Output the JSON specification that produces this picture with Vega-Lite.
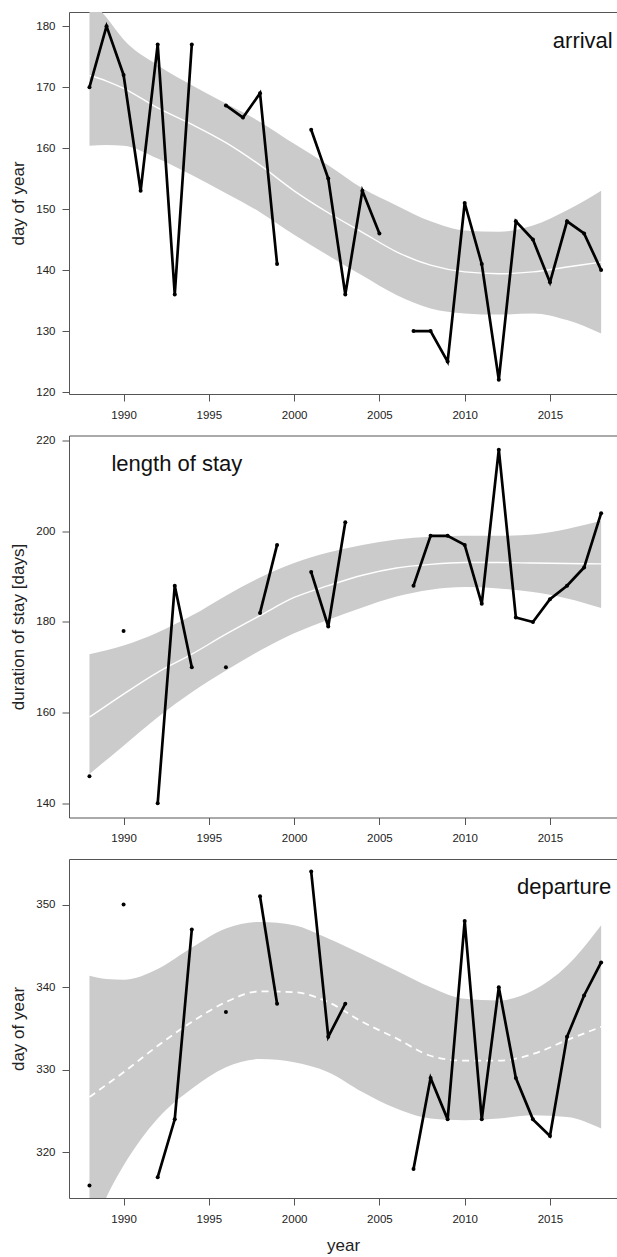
{
  "$schema": "https://vega.github.io/schema/vega-lite/v6.json",
  "padding": {"left": 9, "top": 12, "right": 0, "bottom": 0},
  "background": "white",
  "config": {
    "font": "Liberation Sans",
    "view": {"stroke": null},
    "axis": {"grid": false, "domainColor": "#555", "tickColor": "#555", "labelColor": "#222", "titleColor": "#222", "labelFont": "Liberation Sans", "titleFont": "Liberation Sans", "labelFontSize": 11.5, "titleFontSize": 17, "titleFontWeight": "normal", "tickSize": 7, "domainWidth": 1, "tickWidth": 1, "labelOverlap": false, "labelFlush": false}
  },
  "datasets": {
    "obs": [
      {"panel": "arrival", "year": 1988, "v": 170, "seg": 1},
      {"panel": "arrival", "year": 1989, "v": 180, "seg": 1},
      {"panel": "arrival", "year": 1990, "v": 172, "seg": 1},
      {"panel": "arrival", "year": 1991, "v": 153, "seg": 1},
      {"panel": "arrival", "year": 1992, "v": 177, "seg": 1},
      {"panel": "arrival", "year": 1993, "v": 136, "seg": 1},
      {"panel": "arrival", "year": 1994, "v": 177, "seg": 1},
      {"panel": "arrival", "year": 1996, "v": 167, "seg": 2},
      {"panel": "arrival", "year": 1997, "v": 165, "seg": 2},
      {"panel": "arrival", "year": 1998, "v": 169, "seg": 2},
      {"panel": "arrival", "year": 1999, "v": 141, "seg": 2},
      {"panel": "arrival", "year": 2001, "v": 163, "seg": 3},
      {"panel": "arrival", "year": 2002, "v": 155, "seg": 3},
      {"panel": "arrival", "year": 2003, "v": 136, "seg": 3},
      {"panel": "arrival", "year": 2004, "v": 153, "seg": 3},
      {"panel": "arrival", "year": 2005, "v": 146, "seg": 3},
      {"panel": "arrival", "year": 2007, "v": 130, "seg": 4},
      {"panel": "arrival", "year": 2008, "v": 130, "seg": 4},
      {"panel": "arrival", "year": 2009, "v": 125, "seg": 4},
      {"panel": "arrival", "year": 2010, "v": 151, "seg": 4},
      {"panel": "arrival", "year": 2011, "v": 141, "seg": 4},
      {"panel": "arrival", "year": 2012, "v": 122, "seg": 4},
      {"panel": "arrival", "year": 2013, "v": 148, "seg": 4},
      {"panel": "arrival", "year": 2014, "v": 145, "seg": 4},
      {"panel": "arrival", "year": 2015, "v": 138, "seg": 4},
      {"panel": "arrival", "year": 2016, "v": 148, "seg": 4},
      {"panel": "arrival", "year": 2017, "v": 146, "seg": 4},
      {"panel": "arrival", "year": 2018, "v": 140, "seg": 4},
      {"panel": "stay", "year": 1988, "v": 146, "seg": 1},
      {"panel": "stay", "year": 1990, "v": 178, "seg": 2},
      {"panel": "stay", "year": 1992, "v": 140, "seg": 3},
      {"panel": "stay", "year": 1993, "v": 188, "seg": 3},
      {"panel": "stay", "year": 1994, "v": 170, "seg": 3},
      {"panel": "stay", "year": 1996, "v": 170, "seg": 4},
      {"panel": "stay", "year": 1998, "v": 182, "seg": 5},
      {"panel": "stay", "year": 1999, "v": 197, "seg": 5},
      {"panel": "stay", "year": 2001, "v": 191, "seg": 6},
      {"panel": "stay", "year": 2002, "v": 179, "seg": 6},
      {"panel": "stay", "year": 2003, "v": 202, "seg": 6},
      {"panel": "stay", "year": 2007, "v": 188, "seg": 7},
      {"panel": "stay", "year": 2008, "v": 199, "seg": 7},
      {"panel": "stay", "year": 2009, "v": 199, "seg": 7},
      {"panel": "stay", "year": 2010, "v": 197, "seg": 7},
      {"panel": "stay", "year": 2011, "v": 184, "seg": 7},
      {"panel": "stay", "year": 2012, "v": 218, "seg": 7},
      {"panel": "stay", "year": 2013, "v": 181, "seg": 7},
      {"panel": "stay", "year": 2014, "v": 180, "seg": 7},
      {"panel": "stay", "year": 2015, "v": 185, "seg": 7},
      {"panel": "stay", "year": 2016, "v": 188, "seg": 7},
      {"panel": "stay", "year": 2017, "v": 192, "seg": 7},
      {"panel": "stay", "year": 2018, "v": 204, "seg": 7},
      {"panel": "departure", "year": 1988, "v": 316, "seg": 1},
      {"panel": "departure", "year": 1990, "v": 350, "seg": 2},
      {"panel": "departure", "year": 1992, "v": 317, "seg": 3},
      {"panel": "departure", "year": 1993, "v": 324, "seg": 3},
      {"panel": "departure", "year": 1994, "v": 347, "seg": 3},
      {"panel": "departure", "year": 1996, "v": 337, "seg": 4},
      {"panel": "departure", "year": 1998, "v": 351, "seg": 5},
      {"panel": "departure", "year": 1999, "v": 338, "seg": 5},
      {"panel": "departure", "year": 2001, "v": 354, "seg": 6},
      {"panel": "departure", "year": 2002, "v": 334, "seg": 6},
      {"panel": "departure", "year": 2003, "v": 338, "seg": 6},
      {"panel": "departure", "year": 2007, "v": 318, "seg": 7},
      {"panel": "departure", "year": 2008, "v": 329, "seg": 7},
      {"panel": "departure", "year": 2009, "v": 324, "seg": 7},
      {"panel": "departure", "year": 2010, "v": 348, "seg": 7},
      {"panel": "departure", "year": 2011, "v": 324, "seg": 7},
      {"panel": "departure", "year": 2012, "v": 340, "seg": 7},
      {"panel": "departure", "year": 2013, "v": 329, "seg": 7},
      {"panel": "departure", "year": 2014, "v": 324, "seg": 7},
      {"panel": "departure", "year": 2015, "v": 322, "seg": 7},
      {"panel": "departure", "year": 2016, "v": 334, "seg": 7},
      {"panel": "departure", "year": 2017, "v": 339, "seg": 7},
      {"panel": "departure", "year": 2018, "v": 343, "seg": 7}
    ],
    "fit": [
      {"panel": "arrival", "year": 1988, "lo": 160.4, "mid": 171.9, "hi": 184.5},
      {"panel": "arrival", "year": 1989, "lo": 160.5, "mid": 171.0, "hi": 181.4},
      {"panel": "arrival", "year": 1990, "lo": 160.4, "mid": 169.8, "hi": 177.8},
      {"panel": "arrival", "year": 1992, "lo": 158.3, "mid": 166.6, "hi": 173.6},
      {"panel": "arrival", "year": 1994, "lo": 155.6, "mid": 163.9, "hi": 170.3},
      {"panel": "arrival", "year": 1996, "lo": 152.6, "mid": 160.9, "hi": 167.3},
      {"panel": "arrival", "year": 1998, "lo": 149.5, "mid": 157.2, "hi": 164.3},
      {"panel": "arrival", "year": 2000, "lo": 145.8, "mid": 153.0, "hi": 160.7},
      {"panel": "arrival", "year": 2002, "lo": 142.4, "mid": 149.4, "hi": 157.2},
      {"panel": "arrival", "year": 2004, "lo": 139.1, "mid": 146.2, "hi": 153.4},
      {"panel": "arrival", "year": 2006, "lo": 135.9, "mid": 143.0, "hi": 150.6},
      {"panel": "arrival", "year": 2008, "lo": 133.7, "mid": 140.8, "hi": 148.0},
      {"panel": "arrival", "year": 2010, "lo": 132.9, "mid": 139.7, "hi": 146.5},
      {"panel": "arrival", "year": 2012, "lo": 132.7, "mid": 139.4, "hi": 146.3},
      {"panel": "arrival", "year": 2014, "lo": 132.9, "mid": 139.7, "hi": 147.3},
      {"panel": "arrival", "year": 2016, "lo": 131.8, "mid": 140.5, "hi": 149.8},
      {"panel": "arrival", "year": 2018, "lo": 129.6, "mid": 141.3, "hi": 153.0},
      {"panel": "stay", "year": 1988, "lo": 146.5, "mid": 159.0, "hi": 172.9},
      {"panel": "stay", "year": 1990, "lo": 152.7, "mid": 164.1, "hi": 174.8},
      {"panel": "stay", "year": 1992, "lo": 159.0, "mid": 168.9, "hi": 177.7},
      {"panel": "stay", "year": 1994, "lo": 164.5, "mid": 172.9, "hi": 181.4},
      {"panel": "stay", "year": 1996, "lo": 169.3, "mid": 177.3, "hi": 185.8},
      {"panel": "stay", "year": 1998, "lo": 173.7, "mid": 181.4, "hi": 189.8},
      {"panel": "stay", "year": 2000, "lo": 177.5, "mid": 185.4, "hi": 193.0},
      {"panel": "stay", "year": 2002, "lo": 180.5, "mid": 188.0, "hi": 195.3},
      {"panel": "stay", "year": 2004, "lo": 183.2, "mid": 190.3, "hi": 197.0},
      {"panel": "stay", "year": 2006, "lo": 185.6, "mid": 191.9, "hi": 198.2},
      {"panel": "stay", "year": 2008, "lo": 187.1, "mid": 192.7, "hi": 198.8},
      {"panel": "stay", "year": 2010, "lo": 187.7, "mid": 193.1, "hi": 199.0},
      {"panel": "stay", "year": 2012, "lo": 187.4, "mid": 193.1, "hi": 199.0},
      {"panel": "stay", "year": 2014, "lo": 186.6, "mid": 193.0, "hi": 199.3},
      {"panel": "stay", "year": 2016, "lo": 185.2, "mid": 192.9, "hi": 200.5},
      {"panel": "stay", "year": 2018, "lo": 183.1, "mid": 192.8, "hi": 202.3},
      {"panel": "departure", "year": 1988, "lo": 309.5, "mid": 326.7, "hi": 341.4},
      {"panel": "departure", "year": 1989, "lo": 314.6, "mid": 328.2, "hi": 341.0},
      {"panel": "departure", "year": 1990, "lo": 318.4, "mid": 329.7, "hi": 340.9},
      {"panel": "departure", "year": 1992, "lo": 324.1, "mid": 332.9, "hi": 342.2},
      {"panel": "departure", "year": 1994, "lo": 327.7, "mid": 335.8, "hi": 344.8},
      {"panel": "departure", "year": 1996, "lo": 330.3, "mid": 338.2, "hi": 347.1},
      {"panel": "departure", "year": 1998, "lo": 331.3, "mid": 339.5, "hi": 347.9},
      {"panel": "departure", "year": 2000, "lo": 330.9, "mid": 339.4, "hi": 347.5},
      {"panel": "departure", "year": 2002, "lo": 329.7, "mid": 338.2, "hi": 345.9},
      {"panel": "departure", "year": 2004, "lo": 327.3, "mid": 335.8, "hi": 344.0},
      {"panel": "departure", "year": 2006, "lo": 325.3, "mid": 333.8, "hi": 342.0},
      {"panel": "departure", "year": 2008, "lo": 324.1, "mid": 331.7, "hi": 340.0},
      {"panel": "departure", "year": 2010, "lo": 323.9, "mid": 331.1, "hi": 338.6},
      {"panel": "departure", "year": 2012, "lo": 324.1, "mid": 331.1, "hi": 338.4},
      {"panel": "departure", "year": 2014, "lo": 324.5, "mid": 331.9, "hi": 339.6},
      {"panel": "departure", "year": 2016, "lo": 324.3, "mid": 333.6, "hi": 342.6},
      {"panel": "departure", "year": 2018, "lo": 322.9, "mid": 335.2, "hi": 347.5}
    ]
  },
  "spacing": 41.5,
  "bounds": "flush",
  "vconcat": [
    {
      "width": 548, "height": 382,
      "resolve": {"axis": {"x": "independent"}},
      "layer": [
        {
          "data": {"name": "fit"},
          "transform": [{"filter": {"field": "panel", "equal": "arrival"}}],
          "mark": {"type": "area", "color": "#cbcbcb", "interpolate": "monotone", "clip": true},
          "encoding": {
            "x": {"field": "year", "type": "quantitative", "scale": {"domain": [1986.8, 2018.93], "nice": false, "zero": false},
                  "axis": {"orient": "bottom", "values": [1990, 1995, 2000, 2005, 2010, 2015], "format": "d", "labelPadding": 8, "title": null}},
            "y": {"field": "lo", "type": "quantitative", "scale": {"domain": [119.68, 182.32], "nice": false, "zero": false},
                  "axis": {"values": [120, 130, 140, 150, 160, 170, 180], "labelPadding": 7, "title": "day of year", "titleX": -50.5, "titleY": 191, "titleBaseline": "middle", "titleAngle": 270}},
            "y2": {"field": "hi"}
          }
        },
        {
          "data": {"name": "fit"},
          "transform": [{"filter": {"field": "panel", "equal": "arrival"}}],
          "mark": {"type": "line", "color": "white", "strokeWidth": 1.4, "interpolate": "monotone", "clip": true},
          "encoding": {
            "x": {"field": "year", "type": "quantitative", "axis": {"orient": "top", "ticks": false, "labels": false, "title": null}},
            "y": {"field": "mid", "type": "quantitative"}
          }
        },
        {
          "data": {"name": "obs"},
          "transform": [{"filter": {"field": "panel", "equal": "arrival"}}],
          "mark": {"type": "line", "color": "black", "strokeWidth": 2.7},
          "encoding": {
            "x": {"field": "year", "type": "quantitative", "axis": null},
            "y": {"field": "v", "type": "quantitative"},
            "detail": {"field": "seg"}
          }
        },
        {
          "data": {"name": "obs"},
          "transform": [{"filter": {"field": "panel", "equal": "arrival"}}],
          "mark": {"type": "point", "filled": true, "color": "black", "size": 16, "opacity": 1},
          "encoding": {
            "x": {"field": "year", "type": "quantitative", "axis": null},
            "y": {"field": "v", "type": "quantitative"}
          }
        },
        {
          "data": {"values": [{}]},
          "mark": {"type": "text", "align": "right", "baseline": "alphabetic", "fontSize": 22, "color": "#111", "font": "Liberation Sans"},
          "encoding": {
            "x": {"datum": 2018.68, "type": "quantitative", "axis": null},
            "y": {"datum": 176.44, "type": "quantitative"},
            "text": {"value": "arrival"}
          }
        }
      ]
    },
    {
      "width": 548, "height": 382,
      "resolve": {"axis": {"x": "independent"}},
      "layer": [
        {
          "data": {"name": "fit"},
          "transform": [{"filter": {"field": "panel", "equal": "stay"}}],
          "mark": {"type": "area", "color": "#cbcbcb", "interpolate": "monotone", "clip": true},
          "encoding": {
            "x": {"field": "year", "type": "quantitative", "scale": {"domain": [1986.8, 2018.93], "nice": false, "zero": false},
                  "axis": {"orient": "bottom", "values": [1990, 1995, 2000, 2005, 2010, 2015], "format": "d", "labelPadding": 8, "title": null}},
            "y": {"field": "lo", "type": "quantitative", "scale": {"domain": [136.88, 221.12], "nice": false, "zero": false},
                  "axis": {"values": [140, 160, 180, 200, 220], "labelPadding": 7, "title": "duration of stay [days]", "titleX": -50.5, "titleY": 191, "titleBaseline": "middle", "titleAngle": 270}},
            "y2": {"field": "hi"}
          }
        },
        {
          "data": {"name": "fit"},
          "transform": [{"filter": {"field": "panel", "equal": "stay"}}],
          "mark": {"type": "line", "color": "white", "strokeWidth": 1.4, "interpolate": "monotone", "clip": true},
          "encoding": {
            "x": {"field": "year", "type": "quantitative", "axis": {"orient": "top", "ticks": false, "labels": false, "title": null}},
            "y": {"field": "mid", "type": "quantitative"}
          }
        },
        {
          "data": {"name": "obs"},
          "transform": [{"filter": {"field": "panel", "equal": "stay"}}],
          "mark": {"type": "line", "color": "black", "strokeWidth": 2.7},
          "encoding": {
            "x": {"field": "year", "type": "quantitative", "axis": null},
            "y": {"field": "v", "type": "quantitative"},
            "detail": {"field": "seg"}
          }
        },
        {
          "data": {"name": "obs"},
          "transform": [{"filter": {"field": "panel", "equal": "stay"}}],
          "mark": {"type": "point", "filled": true, "color": "black", "size": 16, "opacity": 1},
          "encoding": {
            "x": {"field": "year", "type": "quantitative", "axis": null},
            "y": {"field": "v", "type": "quantitative"}
          }
        },
        {
          "data": {"values": [{}]},
          "mark": {"type": "text", "align": "left", "baseline": "alphabetic", "fontSize": 22, "color": "#111", "font": "Liberation Sans"},
          "encoding": {
            "x": {"datum": 1989.29, "type": "quantitative", "axis": null},
            "y": {"datum": 213.4, "type": "quantitative"},
            "text": {"value": "length of stay"}
          }
        }
      ]
    },
    {
      "width": 548, "height": 339,
      "resolve": {"axis": {"x": "independent"}},
      "layer": [
        {
          "data": {"name": "fit"},
          "transform": [{"filter": {"field": "panel", "equal": "departure"}}],
          "mark": {"type": "area", "color": "#cbcbcb", "interpolate": "monotone", "clip": true},
          "encoding": {
            "x": {"field": "year", "type": "quantitative", "scale": {"domain": [1986.8, 2018.93], "nice": false, "zero": false},
                  "axis": {"orient": "bottom", "values": [1990, 1995, 2000, 2005, 2010, 2015], "format": "d", "labelPadding": 8, "title": "year", "titleY": 47.5, "titleBaseline": "middle"}},
            "y": {"field": "lo", "type": "quantitative", "scale": {"domain": [314.48, 355.52], "nice": false, "zero": false},
                  "axis": {"values": [320, 330, 340, 350], "labelPadding": 7, "title": "day of year", "titleX": -50.5, "titleY": 169.5, "titleBaseline": "middle", "titleAngle": 270}},
            "y2": {"field": "hi"}
          }
        },
        {
          "data": {"name": "fit"},
          "transform": [{"filter": {"field": "panel", "equal": "departure"}}],
          "mark": {"type": "line", "color": "white", "strokeWidth": 1.8, "strokeDash": [7, 5], "interpolate": "monotone", "clip": true},
          "encoding": {
            "x": {"field": "year", "type": "quantitative", "axis": {"orient": "top", "ticks": false, "labels": false, "title": null}},
            "y": {"field": "mid", "type": "quantitative"}
          }
        },
        {
          "data": {"name": "obs"},
          "transform": [{"filter": {"field": "panel", "equal": "departure"}}],
          "mark": {"type": "line", "color": "black", "strokeWidth": 2.7},
          "encoding": {
            "x": {"field": "year", "type": "quantitative", "axis": null},
            "y": {"field": "v", "type": "quantitative"},
            "detail": {"field": "seg"}
          }
        },
        {
          "data": {"name": "obs"},
          "transform": [{"filter": {"field": "panel", "equal": "departure"}}],
          "mark": {"type": "point", "filled": true, "color": "black", "size": 16, "opacity": 1},
          "encoding": {
            "x": {"field": "year", "type": "quantitative", "axis": null},
            "y": {"field": "v", "type": "quantitative"}
          }
        },
        {
          "data": {"values": [{}]},
          "mark": {"type": "text", "align": "right", "baseline": "alphabetic", "fontSize": 22, "color": "#111", "font": "Liberation Sans"},
          "encoding": {
            "x": {"datum": 2018.59, "type": "quantitative", "axis": null},
            "y": {"datum": 351.3, "type": "quantitative"},
            "text": {"value": "departure"}
          }
        }
      ]
    }
  ]
}
